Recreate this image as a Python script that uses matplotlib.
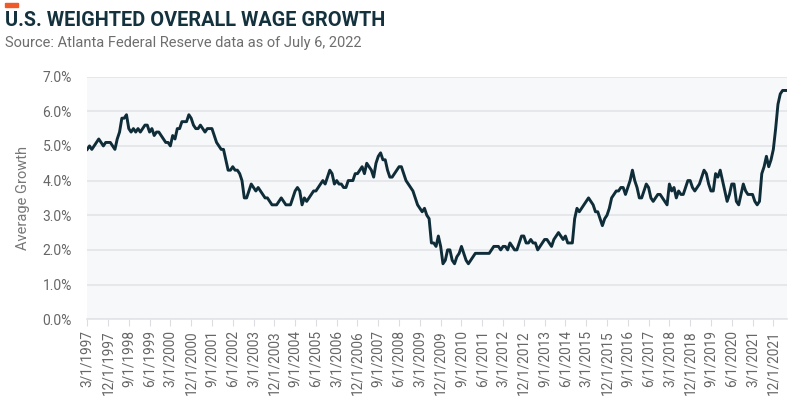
import matplotlib
matplotlib.use('Agg')
import matplotlib.pyplot as plt
import pandas as pd
import numpy as np

# monthly weighted overall wage growth (%), 3/1997 .. 6/2022
wage_growth = [
    4.9, 5.0, 4.9, 5.0, 5.1, 5.2, 5.1, 5.0, 5.1, 5.1, 5.1, 5.0,
    4.9, 5.2, 5.4, 5.8, 5.8, 5.9, 5.5, 5.4, 5.5, 5.4, 5.5, 5.4,
    5.5, 5.6, 5.6, 5.4, 5.5, 5.3, 5.4, 5.4, 5.3, 5.2, 5.1, 5.1,
    5.0, 5.3, 5.2, 5.5, 5.5, 5.7, 5.7, 5.7, 5.9, 5.8, 5.6, 5.5,
    5.5, 5.6, 5.5, 5.4, 5.5, 5.5, 5.5, 5.3, 5.1, 5.0, 4.9, 4.9,
    4.6, 4.3, 4.3, 4.4, 4.3, 4.3, 4.2, 4.0, 3.5, 3.5, 3.7, 3.9,
    3.8, 3.7, 3.8, 3.7, 3.6, 3.5, 3.5, 3.4, 3.3, 3.3, 3.3, 3.4,
    3.5, 3.4, 3.3, 3.3, 3.3, 3.5, 3.7, 3.8, 3.7, 3.3, 3.5, 3.4,
    3.5, 3.6, 3.7, 3.7, 3.8, 3.9, 4.0, 3.9, 4.1, 4.3, 4.2, 3.9,
    4.0, 3.9, 3.9, 3.8, 3.8, 4.0, 4.0, 4.0, 4.2, 4.2, 4.3, 4.4,
    4.2, 4.5, 4.4, 4.3, 4.1, 4.5, 4.7, 4.8, 4.6, 4.6, 4.3, 4.1,
    4.1, 4.2, 4.3, 4.4, 4.4, 4.2, 4.0, 3.9, 3.8, 3.7, 3.5, 3.3,
    3.2, 3.1, 3.2, 3.0, 2.9, 2.2, 2.2, 2.1, 2.4, 2.1, 1.6, 1.7,
    2.0, 2.0, 1.7, 1.6, 1.8, 1.9, 2.1, 1.9, 1.7, 1.6, 1.7, 1.8,
    1.9, 1.9, 1.9, 1.9, 1.9, 1.9, 1.9, 2.0, 2.1, 2.1, 2.1, 2.0,
    2.1, 2.1, 2.0, 2.2, 2.1, 2.0, 2.0, 2.2, 2.4, 2.4, 2.2, 2.2,
    2.3, 2.2, 2.2, 2.0, 2.1, 2.2, 2.3, 2.3, 2.2, 2.1, 2.3, 2.4,
    2.5, 2.4, 2.3, 2.4, 2.2, 2.2, 2.2, 2.9, 3.2, 3.1, 3.2, 3.3,
    3.4, 3.5, 3.4, 3.3, 3.1, 3.1, 2.9, 2.7, 2.9, 3.0, 3.2, 3.5,
    3.6, 3.7, 3.7, 3.8, 3.8, 3.6, 3.8, 4.0, 4.3, 4.0, 3.8, 3.5,
    3.5, 3.7, 3.9, 3.8, 3.5, 3.4, 3.5, 3.6, 3.6, 3.5, 3.4, 3.3,
    3.9, 3.7, 3.8, 3.5, 3.7, 3.6, 3.6, 3.8, 4.0, 4.0, 3.8, 3.7,
    3.8, 3.9, 4.1, 4.3, 4.2, 3.9, 3.7, 3.7, 4.2, 4.1, 4.3, 4.0,
    3.7, 3.4, 3.6, 3.9, 3.9, 3.4, 3.3, 3.6, 3.9, 3.7, 3.6, 3.6,
    3.6, 3.4, 3.3, 3.4, 4.2, 4.4, 4.7, 4.4, 4.6, 4.9, 5.5, 6.2,
    6.5, 6.6, 6.6, 6.6,
]
start_month = '1997-03-01'
tick_step = 9  # label every 9th month
y_ticks = [0, 1, 2, 3, 4, 5, 6, 7]

dates = pd.date_range(start_month, periods=len(wage_growth), freq='MS')
labels = [f'{d.month}/{d.day}/{d.year}' for d in dates]
x = np.arange(len(wage_growth))

plt.rcParams['font.family'] = ['Roboto', 'DejaVu Sans']

fig = plt.figure(figsize=(8, 3.99), dpi=100)
ax = fig.add_axes([0.109, 0.2, 0.875, 0.608])
ax.set_facecolor('#f7f8fa')

ax.plot(x, wage_growth, color='#0f2d38', linewidth=2.1, solid_joinstyle='round')

ax.set_xlim(0, len(wage_growth) - 1)
ax.set_ylim(0, 7)
ax.set_yticks(y_ticks)
ax.set_yticklabels([f'{v:.1f}%' for v in y_ticks])
ax.yaxis.grid(True, color='#e3e4e7', linewidth=1.2)
ax.set_axisbelow(True)

tick_pos = x[::tick_step]
ax.set_xticks(tick_pos)
ax.set_xticklabels([labels[i] for i in tick_pos], rotation=90)

for s in ['top', 'right', 'left']:
    ax.spines[s].set_visible(False)
ax.spines['bottom'].set_color('#e3e4e7')
ax.spines['bottom'].set_linewidth(1.2)

ax.tick_params(axis='y', length=0, pad=11, labelsize=10, labelcolor='#666666')
ax.tick_params(axis='x', length=5, color='#dcdde0', pad=3, labelsize=9.8, labelcolor='#666666')

ax.set_ylabel('Average Growth', color='#777777', fontsize=10.5, labelpad=9)

fig.text(0.006, 0.948, 'U.S. WEIGHTED OVERALL WAGE GROWTH', fontsize=14.3, fontweight='bold',
         color='#14323d', va='center', ha='left')
fig.text(0.006, 0.892, 'Source: Atlanta Federal Reserve data as of July 6, 2022', fontsize=10.5,
         color='#6e6e6e', va='center', ha='left')
fig.patches.append(plt.Rectangle((0.006, 0.983), 0.017, 0.01, transform=fig.transFigure,
                                 color='#f05a28', figure=fig))

fig.savefig('out.png', dpi=100)
